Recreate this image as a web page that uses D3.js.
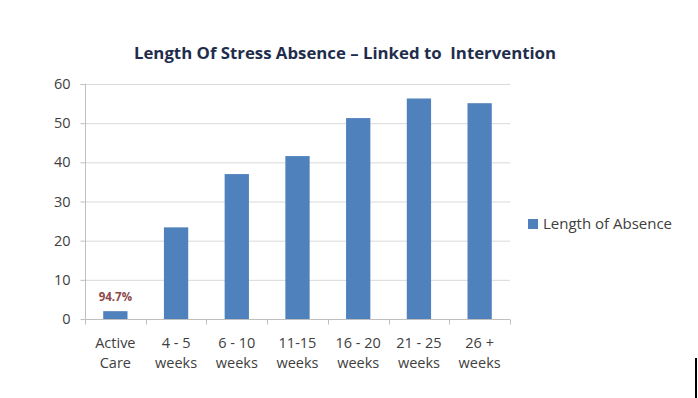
<!DOCTYPE html>
<html><head><meta charset="utf-8">
<script src="https://cdn.jsdelivr.net/npm/d3@7"></script>
<style>body{margin:0;background:#fff}svg{display:block}text{white-space:pre}</style>
</head><body>
<svg id="c" width="698" height="398"></svg>
<script>
const categories = [["Active","Care"],["4 - 5","weeks"],["6 - 10","weeks"],["11-15","weeks"],["16 - 20","weeks"],["21 - 25","weeks"],["26 +","weeks"]];
const values = [2.0, 23.4, 37.0, 41.6, 51.3, 56.3, 55.1];
const yTicks = [0,10,20,30,40,50,60];
const seriesName = "Length of Absence";
const title = "Length Of Stress Absence \u2013 Linked to  Intervention";
const barLabel = "94.7%";

const svg = d3.select("#c");
const font = "'Open Sans', sans-serif";
const pLeft = 85, pRight = 510, pTop = 84, pBottom = 319;
const x = d3.scaleBand().domain(d3.range(categories.length)).range([pLeft, pRight]).paddingInner(0.6).paddingOuter(0.3);
const y = d3.scaleLinear().domain([0,60]).range([pBottom, pTop]);

// gridlines
svg.append("g").selectAll("line").data(yTicks.slice(1)).join("line")
  .attr("x1", pLeft).attr("x2", pRight).attr("y1", d=>y(d)+0.5).attr("y2", d=>y(d)+0.5)
  .attr("stroke", "#d9d9d9").attr("stroke-width", 1);

// y axis
const ya = svg.append("g").attr("transform", `translate(${pLeft+0.5},0)`)
  .call(d3.axisLeft(y).tickValues(yTicks).tickSize(5).tickPadding(10));
ya.select(".domain").attr("stroke", "#bfbfbf").attr("d", `M-5,${pTop+0.5}H0V${pBottom+0.5}`);
ya.selectAll(".tick line").attr("stroke", "#bfbfbf");
ya.selectAll("text").attr("font-family", font).attr("font-size", 14.5).attr("fill", "#404040");

// x axis
const band = (pRight-pLeft)/categories.length;
const xb = svg.append("g").attr("transform", `translate(0,${pBottom+0.5})`);
xb.append("line").attr("x1", pLeft).attr("x2", pRight).attr("stroke", "#bfbfbf");
xb.selectAll("line.t").data(d3.range(categories.length+1)).join("line").attr("class","t")
  .attr("x1", i=>Math.round(pLeft+i*band)+0.5).attr("x2", i=>Math.round(pLeft+i*band)+0.5)
  .attr("y1", 0).attr("y2", 5).attr("stroke", "#bfbfbf");
const lbl = xb.selectAll("text").data(categories).join("text")
  .attr("text-anchor", "middle").attr("font-family", font).attr("font-size", 14.5).attr("fill", "#404040");
lbl.each(function(d,i){
  const t = d3.select(this);
  const cx = x(i)+x.bandwidth()/2;
  d.forEach((s,k)=>t.append("tspan").attr("x", cx).attr("y", 28+k*20).text(s));
});

// bars
svg.append("g").selectAll("rect").data(values).join("rect")
  .attr("x", (d,i)=>x(i)).attr("width", x.bandwidth())
  .attr("y", d=>y(d)).attr("height", d=>y(0)-y(d))
  .attr("fill", "#4f81bd");

// bar label
svg.append("text").attr("x", x(0)+x.bandwidth()/2).attr("y", y(values[0])-10)
  .attr("text-anchor","middle").attr("font-family", font).attr("font-size", 11.5).attr("font-weight", "bold")
  .attr("fill", "#8b4a4a").text(barLabel);

// title
svg.append("text").attr("x", 345).attr("y", 59).attr("text-anchor","middle")
  .attr("font-family", font).attr("font-size", 16.8).attr("font-weight","bold").attr("fill","#1f2d4d").text(title);

// legend
svg.append("rect").attr("x", 528).attr("y", 219).attr("width", 10).attr("height", 10).attr("fill", "#4f81bd");
svg.append("text").attr("x", 543).attr("y", 229).attr("font-family", font).attr("font-size", 15).attr("fill","#404040").text(seriesName);

// edge mark
svg.append("rect").attr("x", 695).attr("y", 358).attr("width", 2).attr("height", 40).attr("fill", "#000");
</script>
</body></html>
